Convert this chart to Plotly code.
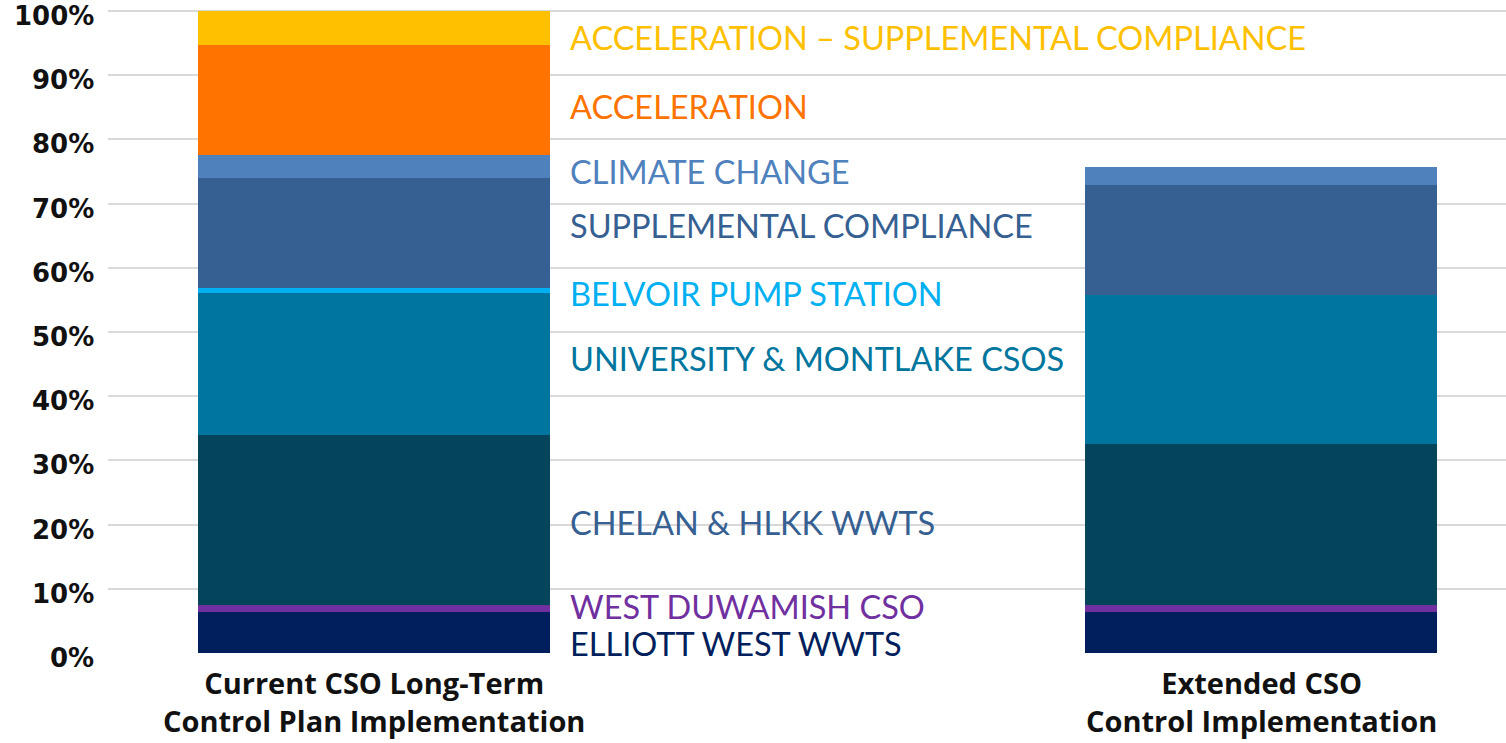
import plotly.graph_objects as go

categories = ["Current CSO Long-Term<br>Control Plan Implementation",
              "Extended CSO<br>Control Implementation"]
series_names = ["ELLIOTT WEST WWTS", "WEST DUWAMISH CSO", "CHELAN & HLKK WWTS",
                "UNIVERSITY & MONTLAKE CSOS", "BELVOIR PUMP STATION",
                "SUPPLEMENTAL COMPLIANCE", "CLIMATE CHANGE", "ACCELERATION",
                "ACCELERATION – SUPPLEMENTAL COMPLIANCE"]
current_values = [6.4, 1.1, 26.5, 22.0, 0.85, 17.15, 3.6, 17.15, 5.25]
extended_values = [6.4, 1.1, 25.1, 23.15, 0.0, 17.15, 2.85, 0.0, 0.0]
bar_colors = ["#001F5C", "#7030A0", "#05455C", "#00759D", "#00B0F0",
              "#366092", "#4F81BD", "#FF7300", "#FFC000"]
label_colors = ["#001F5C", "#7030A0", "#366092", "#00759D", "#00B0F0",
                "#366092", "#4F81BD", "#FF7300", "#FFC000"]
label_y = [1.5, 7.3, 20.3, 45.9, 56.0, 66.6, 75.0, 85.1, 95.8]
tick_vals = [0, 10, 20, 30, 40, 50, 60, 70, 80, 90, 100]
tick_text = [f"{v}%" for v in tick_vals]

x_pos = [0, 1]
fig = go.Figure()
for i, name in enumerate(series_names):
    fig.add_trace(go.Bar(
        x=x_pos, y=[current_values[i], extended_values[i]], name=name,
        marker=dict(color=bar_colors[i], line=dict(width=0)),
        width=0.397, showlegend=False))

# segment labels
for i, name in enumerate(series_names):
    fig.add_annotation(x=0.219, y=label_y[i], xref="x", yref="y", text=name,
                       showarrow=False, xanchor="left", yanchor="middle",
                       font=dict(family="Lato", size=32.5, color=label_colors[i]))

# y tick labels (sit slightly below their gridlines, as in the original)
for v, t in zip(tick_vals, tick_text):
    fig.add_annotation(x=0, y=v, xref="paper", yref="y", text=t, showarrow=False,
                       xanchor="right", yanchor="middle", xshift=-12, yshift=-5,
                       font=dict(family="DejaVu Sans", size=26, color="#111111", weight="bold"))

# category labels
for xp, cat in zip(x_pos, categories):
    fig.add_annotation(x=xp, y=0, xref="x", yref="paper", text=cat, showarrow=False,
                       xanchor="center", yanchor="middle", yshift=-48,
                       font=dict(family="Open Sans", size=29, color="#111111", weight="bold"))

fig.update_layout(
    barmode="stack", width=1506, height=743,
    margin=dict(l=108, r=0, t=9, b=90),
    plot_bgcolor="white", paper_bgcolor="white",
    xaxis=dict(range=[-0.3, 1.276], tickvals=x_pos, showticklabels=False,
               showgrid=False, zeroline=False, showline=False, automargin=False),
    yaxis=dict(range=[0, 100.3], tickvals=tick_vals, showticklabels=False,
               showgrid=True, gridcolor="#d9d9d9", gridwidth=1.5,
               zeroline=False, showline=False, automargin=False),
)
fig.write_html("out.html", config={"displayModeBar": False},
               post_script="document.body.style.margin='0';document.body.style.overflow='hidden';")
